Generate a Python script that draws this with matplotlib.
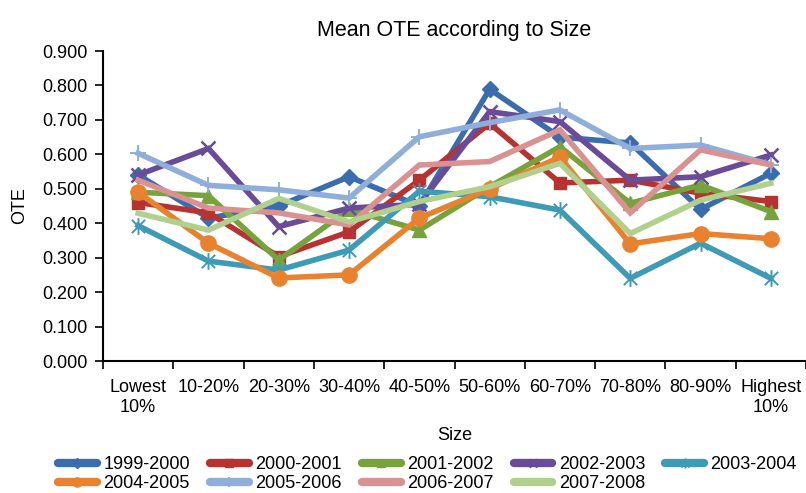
import matplotlib
matplotlib.use("Agg")
import matplotlib.pyplot as plt
import numpy as np
from matplotlib.path import Path

plt.rcParams['font.family'] = ['Liberation Sans', 'DejaVu Sans']

categories = ["Lowest\n10%", "10-20%", "20-30%", "30-40%", "40-50%", "50-60%",
              "60-70%", "70-80%", "80-90%", "Highest\n10%"]

ote_1999_2000 = [0.540, 0.415, 0.450, 0.535, 0.450, 0.789, 0.650, 0.633, 0.440, 0.545]
ote_2000_2001 = [0.460, 0.430, 0.303, 0.375, 0.525, 0.690, 0.517, 0.525, 0.487, 0.463]
ote_2001_2002 = [0.490, 0.480, 0.293, 0.440, 0.380, 0.506, 0.622, 0.458, 0.511, 0.434]
ote_2002_2003 = [0.540, 0.617, 0.390, 0.444, 0.455, 0.724, 0.695, 0.525, 0.535, 0.598]
ote_2003_2004 = [0.393, 0.290, 0.264, 0.322, 0.493, 0.477, 0.438, 0.240, 0.342, 0.240]
ote_2004_2005 = [0.490, 0.342, 0.241, 0.250, 0.415, 0.500, 0.592, 0.340, 0.370, 0.355]
ote_2005_2006 = [0.603, 0.510, 0.497, 0.473, 0.651, 0.692, 0.729, 0.617, 0.627, 0.570]
ote_2006_2007 = [0.525, 0.444, 0.430, 0.395, 0.569, 0.579, 0.671, 0.430, 0.613, 0.569]
ote_2007_2008 = [0.429, 0.380, 0.472, 0.404, 0.463, 0.506, 0.574, 0.370, 0.467, 0.516]

series_labels = ["1999-2000", "2000-2001", "2001-2002", "2002-2003", "2003-2004",
                 "2004-2005", "2005-2006", "2006-2007", "2007-2008"]
series_values = [ote_1999_2000, ote_2000_2001, ote_2001_2002, ote_2002_2003,
                 ote_2003_2004, ote_2004_2005, ote_2005_2006, ote_2006_2007,
                 ote_2007_2008]

# star marker: an x crossed by a vertical bar
star = Path([(-1, -1), (1, 1), (-1, 1), (1, -1), (0, -1.25), (0, 1.25)],
            [Path.MOVETO, Path.LINETO, Path.MOVETO, Path.LINETO, Path.MOVETO, Path.LINETO])

styles = [
    dict(color="#3A6DB0", marker="D", ms=8),
    dict(color="#B83232", marker="s", ms=9),
    dict(color="#77A33C", marker="^", ms=10),
    dict(color="#6A4B98", marker="x", ms=10, mew=1.8),
    dict(color="#3D9BB6", marker=star, ms=12, mew=1.4),
    dict(color="#E8822E", marker="o", ms=11),
    dict(color="#8FAFDA", marker="+", ms=11, mew=1.4),
    dict(color="#D99291", marker=None, ms=0),
    dict(color="#B0D08E", marker=None, ms=0),
]

fig = plt.figure(figsize=(8.06, 4.93), dpi=100)
ax = fig.add_axes([103 / 806, 1 - 361 / 493, (806 - 103) / 806, 310 / 493])

x = np.arange(len(categories))
handles = []
for lab, vals, st in zip(series_labels, series_values, styles):
    kw = dict(color=st["color"], lw=4.0, solid_joinstyle="miter", label=lab)
    if st["marker"] is not None:
        kw.update(marker=st["marker"], markersize=st["ms"],
                  markerfacecolor=st["color"], markeredgecolor=st["color"],
                  markeredgewidth=st.get("mew", 1.0))
    h, = ax.plot(x, vals, **kw)
    handles.append(h)

ax.set_xlim(-0.5, len(categories) - 0.5)
ax.set_ylim(0, 0.9)
ax.set_yticks(np.arange(0, 0.91, 0.1))
ax.yaxis.set_major_formatter(matplotlib.ticker.FormatStrFormatter("%.3f"))
ax.set_xticks(x)
ax.set_xticklabels(categories)
ax.set_xticks(np.arange(-0.5, len(categories), 1.0), minor=True)
ax.tick_params(axis="x", which="major", length=0, pad=13, labelsize=13)
ax.tick_params(axis="x", which="minor", length=6, width=1.2, direction="out")
ax.tick_params(axis="y", length=6, width=1.2, direction="out", labelsize=13, pad=5)

for s in ("top", "right"):
    ax.spines[s].set_visible(False)
for s in ("left", "bottom"):
    ax.spines[s].set_linewidth(1.5)

ax.set_title("Mean OTE according to Size", fontsize=15.5, pad=11)
ax.set_xlabel("Size", fontsize=13, labelpad=8)
ax.set_ylabel("OTE", fontsize=13, labelpad=10)

order = [0, 5, 1, 6, 2, 7, 3, 8, 4]
leg = fig.legend([handles[i] for i in order], [series_labels[i] for i in order],
                 ncol=5, loc="upper left", bbox_to_anchor=(58 / 806, 1 - 456 / 493),
                 frameon=False, fontsize=13, handlelength=2.15, handletextpad=0.35,
                 columnspacing=1.12, labelspacing=0.12, borderpad=0, borderaxespad=0,
                 markerscale=0.6)
for ln in leg.get_lines():
    ln.set_linewidth(6)
    ln.set_solid_capstyle("round")

fig.savefig("out.png", dpi=100)
